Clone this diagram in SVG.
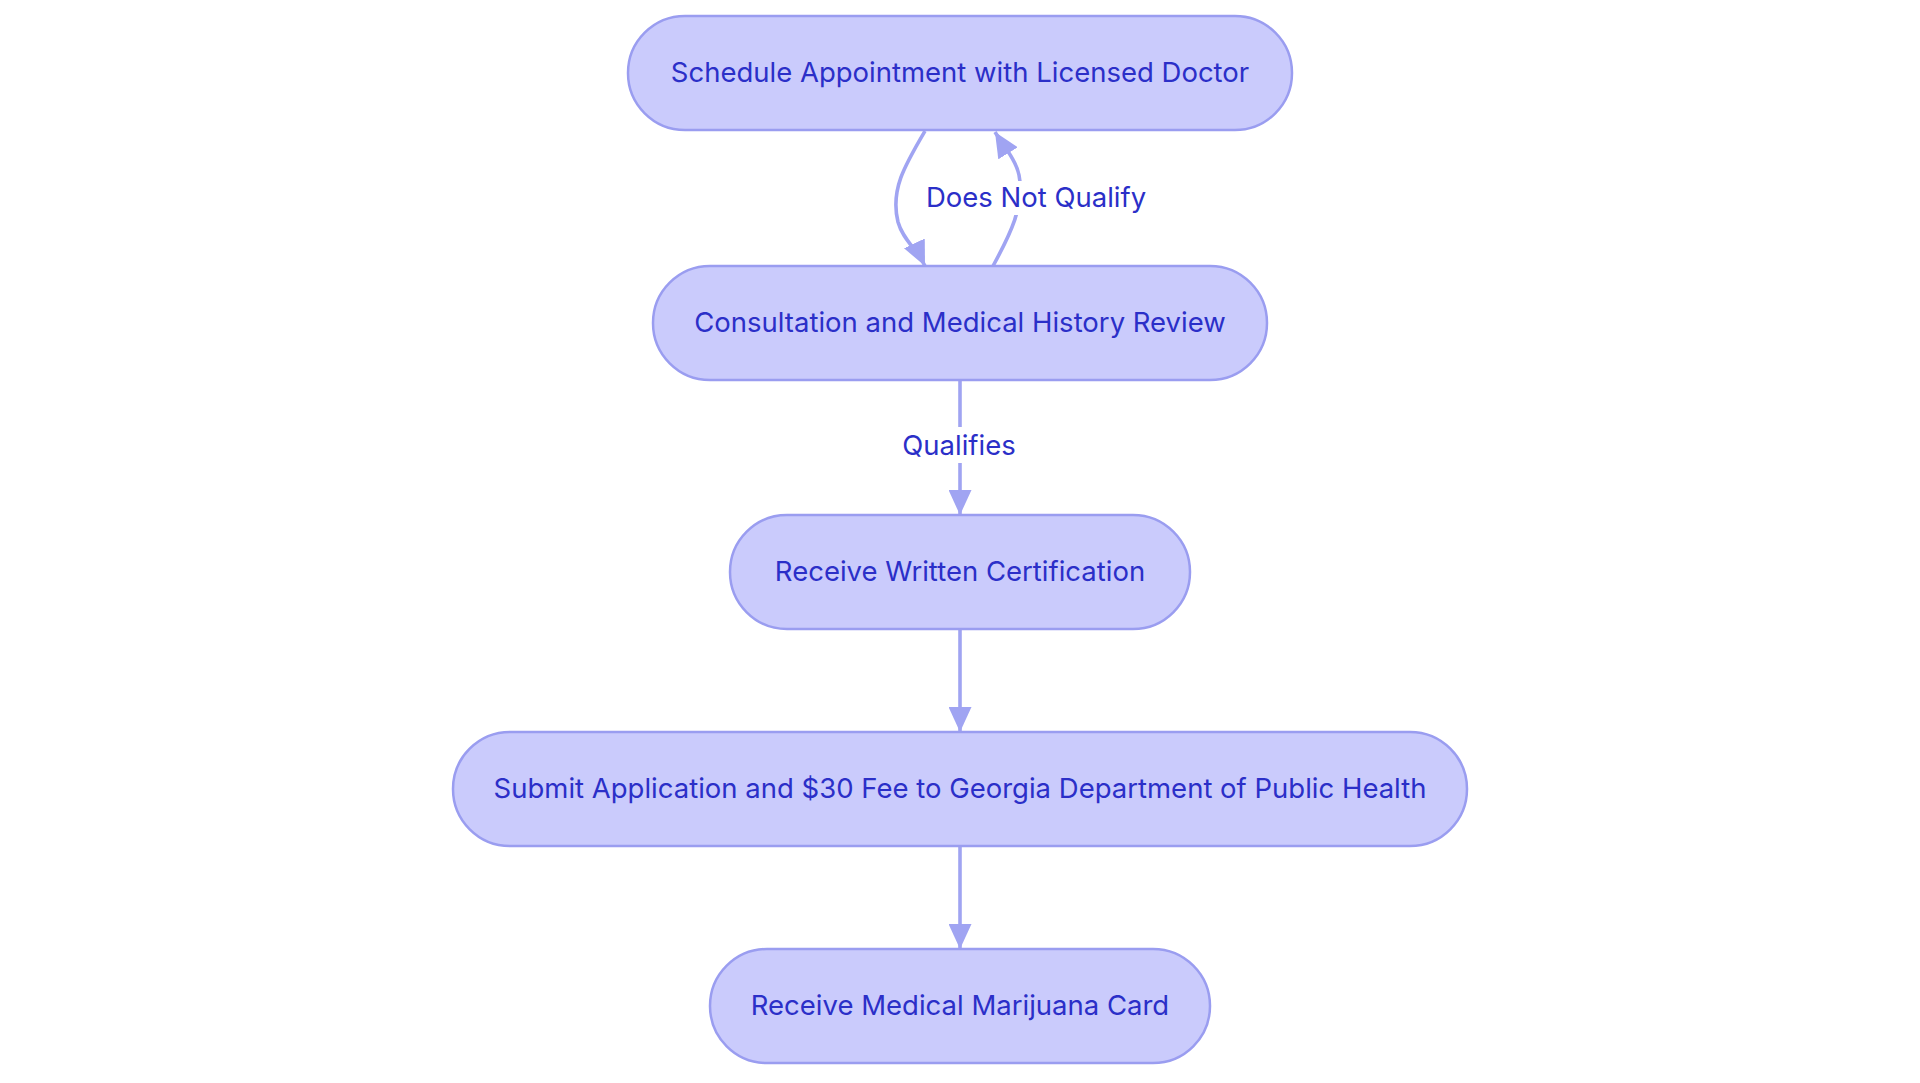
<svg xmlns="http://www.w3.org/2000/svg" width="1920" height="1083" viewBox="0 0 1920 1083">
<style>
.node rect{fill:#CACBFC;stroke:#9A9DF0;stroke-width:2.5}
.node text,.lbl text{font-family:Inter,"Open Sans","Liberation Sans",sans-serif;font-size:27.5px;fill:#2B2FC8;text-anchor:middle}
.edge{fill:none;stroke:#A0A4F2;stroke-width:3.6}
.lbl rect{fill:#ffffff}
</style>
<defs>
<marker id="arr" markerUnits="userSpaceOnUse" viewBox="0 0 25 23" markerWidth="25" markerHeight="23" refX="25" refY="11.5" orient="auto">
<path d="M0,0 L25,11.5 L0,23 z" fill="#A0A4F2"/>
</marker>
</defs>
<rect width="1920" height="1083" fill="#ffffff"/>
<g id="connectors">
<path class="edge" d="M925,131 C905,165 890,190 898,222 C903,240 917,249 925,266" marker-end="url(#arr)"/>
<path class="edge" d="M993,266 C1010,235 1025,205 1019,175 C1016,160 1003,145 995,132" marker-end="url(#arr)"/>
<path class="edge" d="M960,380 L960,515" marker-end="url(#arr)"/>
<path class="edge" d="M960,629 L960,732" marker-end="url(#arr)"/>
<path class="edge" d="M960,846 L960,949" marker-end="url(#arr)"/>
<g class="lbl" id="label-notqualify">
<rect x="924" y="181" width="224" height="34"/>
<text x="1036" y="207">Does Not Qualify</text>
</g>
<g class="lbl" id="label-qualifies">
<rect x="902" y="427" width="116" height="36"/>
<text x="959" y="455">Qualifies</text>
</g>
</g>
<g id="node-schedule" class="node">
<rect x="628" y="16" width="664" height="114" rx="57" ry="57"/>
<text x="960" y="81.5">Schedule Appointment with Licensed Doctor</text>
</g>
<g id="node-consult" class="node">
<rect x="653" y="266" width="614" height="114" rx="57" ry="57"/>
<text x="960" y="331.5">Consultation and Medical History Review</text>
</g>
<g id="node-cert" class="node">
<rect x="730" y="515" width="460" height="114" rx="57" ry="57"/>
<text x="960" y="581">Receive Written Certification</text>
</g>
<g id="node-submit" class="node">
<rect x="453" y="732" width="1014" height="114" rx="57" ry="57"/>
<text x="960" y="798">Submit Application and $30 Fee to Georgia Department of Public Health</text>
</g>
<g id="node-card" class="node">
<rect x="710" y="949" width="500" height="114" rx="57" ry="57"/>
<text x="960" y="1015">Receive Medical Marijuana Card</text>
</g>
</svg>
